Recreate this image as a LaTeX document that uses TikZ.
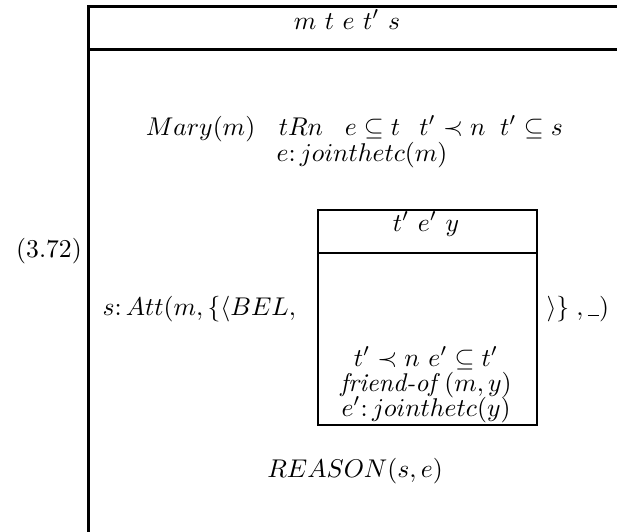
\documentclass[tikz,border=0pt]{standalone}
\usepackage{amssymb}
\begin{document}
\begin{tikzpicture}[x=0.39pt,y=-0.39pt,
  txt/.style={inner sep=0pt,anchor=base},
  outerline/.style={line width=1.2pt},
  innerline/.style={line width=0.8pt}]
\useasboundingbox (0,0) rectangle (617,531);
% outer box (cropped on the right and bottom)
\draw[outerline] (88.5,540) -- (88.5,6.5) -- (630,6.5);
\draw[outerline] (88.5,49.5) -- (630,49.5);
% inner box
\draw[innerline] (318,210) rectangle (537,425);
\draw[innerline] (318,253) -- (537,253);
% texts
\node[txt] (hdr) at (347,29) {$m\ t\ e\ t'\ s$};
\node[txt] (c1) at (200.5,135) {$Mary(m)$};
\node[txt] (c2) at (301,135) {$tRn$};
\node[txt] (c3) at (372.5,135) {$e\subseteq t$};
\node[txt] (c4) at (452.5,135) {$t'\prec n$};
\node[txt] (c5) at (531.5,135) {$t'\subseteq s$};
\node[txt] (c6) at (362,161) {$e\colon jointhetc(m)$};
\node[txt] (num) at (49,257) {$(3.72)$};
\node[txt,anchor=base west] (att) at (102,315) {$s\colon Att(m,\{\langle BEL,$};
\node[txt] (ihdr) at (426,231) {$t'\ e'\ y$};
\node[txt] (i1) at (426,366) {$t'\prec n\ e'\subseteq t'$};
\node[txt] (i2) at (426,391) {\textit{friend-of}$\,(m,y)$};
\node[txt] (i3) at (426,416) {$e'\colon jointhetc(y)$};
\node[txt,anchor=base west] (close) at (546,315) {$\rangle\}\;,\rule[-0.3pt]{4.4pt}{0.5pt})$};
\node[txt] (reason) at (355,477) {$REASON(s,e)$};
\end{tikzpicture}
\end{document}
